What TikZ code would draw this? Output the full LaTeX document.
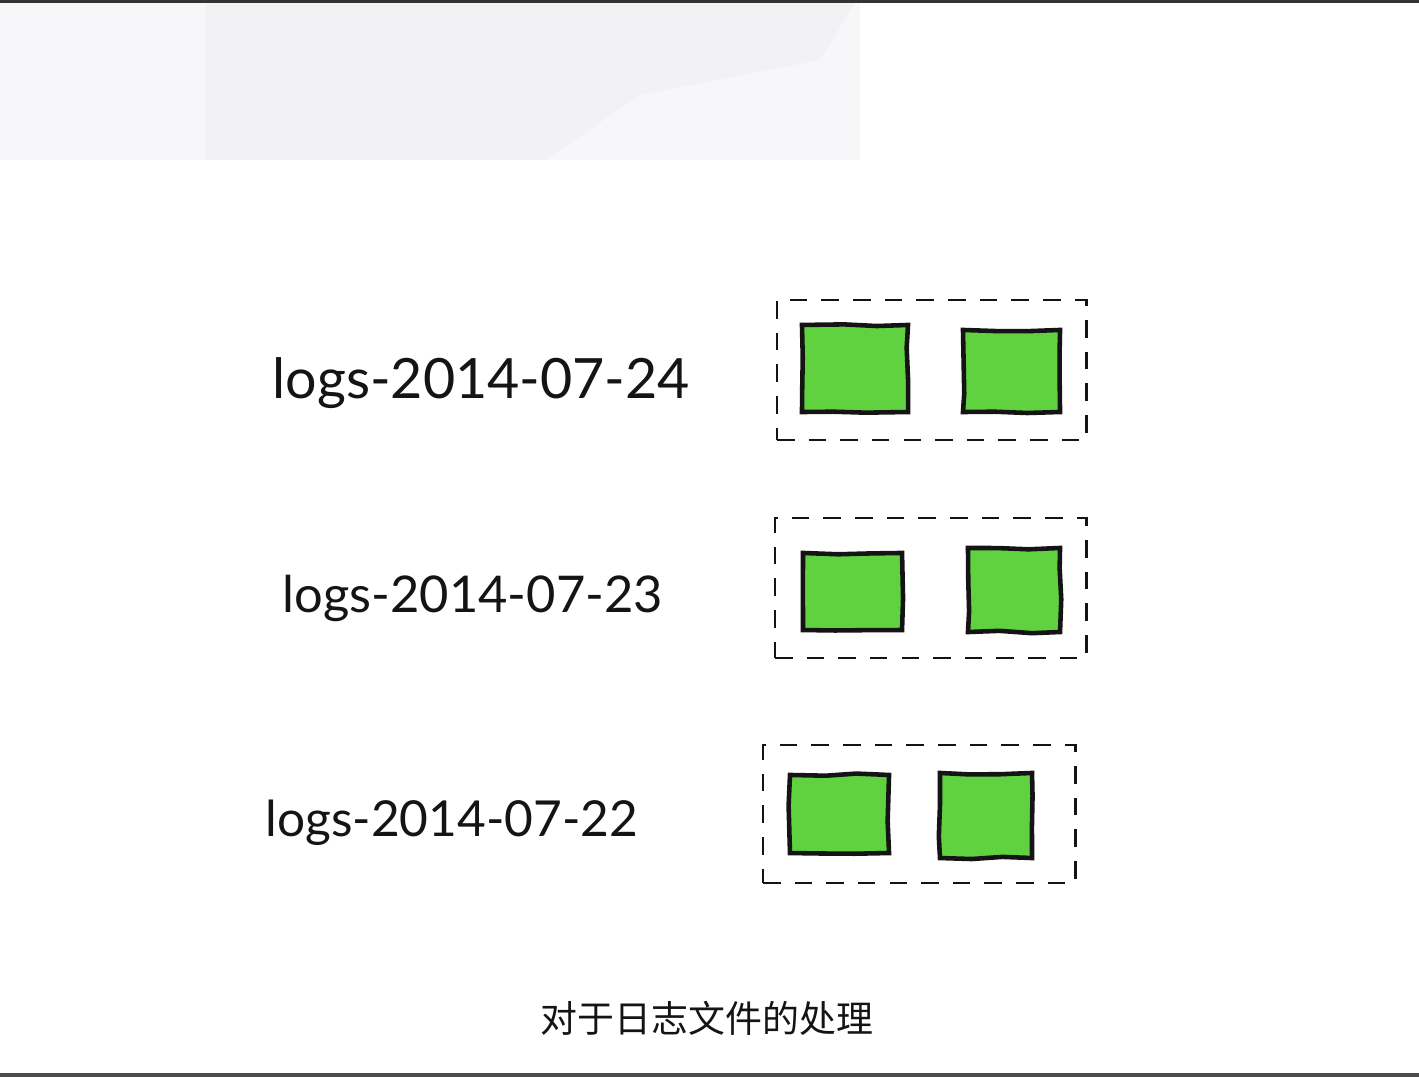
\documentclass[tikz,border=0pt]{standalone}
\usepackage{fontspec}
\setmainfont{Lato}
\newfontfamily\cjk{Noto Sans CJK SC}
\usetikzlibrary{decorations.pathmorphing, positioning}
\definecolor{loggreen}{RGB}{96, 210, 64}
\definecolor{inkblack}{RGB}{20, 20, 20}
\definecolor{shadegray}{RGB}{242, 242, 244}
\definecolor{shadelight}{RGB}{247, 247, 249}
\tikzset{
    logname/.style={font=\fontsize{#1}{18}\selectfont, text=inkblack, anchor=west, inner sep=0pt},
    chunk/.style={rectangle, draw=inkblack, fill=loggreen, line width=1.3pt, decorate, decoration={random steps, segment length=9pt, amplitude=0.4pt}},
    bucket/.style={rectangle, draw=inkblack, dash pattern=on 5pt off 4pt, line width=0.8pt},
    caption/.style={font=\cjk\fontsize{10.5}{12}\selectfont, text=inkblack}
}
\pgfmathsetseed{7}

\begin{document}
\begin{tikzpicture}[x=0.01cm, y=-0.01cm]
    \useasboundingbox (0,0) rectangle (1419,1077);
    \fill[white] (0,0) rectangle (1419,1077);

    % Faded video frame at the top
    \fill[shadelight] (0,3) rectangle (860,160);
    \fill[shadegray] (205,3) -- (855,3) -- (820,60) -- (640,95) -- (545,160) -- (205,160) -- cycle;
    \fill[black!80] (0,0) rectangle (1419,3);
    \fill[black!70] (0,1073) rectangle (1419,1077);

    % Index names
    \node[logname=15.8] (name24) at (272,383) {logs-2014-07-24};
    \node[logname=14.4] (name23) at (282,598) {logs-2014-07-23};
    \node[logname=14.1] (name22) at (265,823) {logs-2014-07-22};

    % Indices (dashed) with their shards
    \node[bucket, minimum width=3.09cm, minimum height=1.40cm] (idx24) at (931.5,370) {};
    \node[chunk, minimum width=1.06cm, minimum height=0.87cm] (s24a) at (855,368.5) {};
    \node[chunk, minimum width=0.97cm, minimum height=0.82cm] (s24b) at (1011.5,371) {};

    \node[bucket, minimum width=3.11cm, minimum height=1.40cm] (idx23) at (930.5,588) {};
    \node[chunk, minimum width=0.99cm, minimum height=0.77cm] (s23a) at (852.5,591.5) {};
    \node[chunk, minimum width=0.92cm, minimum height=0.84cm] (s23b) at (1014,590) {};

    \node[bucket, minimum width=3.12cm, minimum height=1.38cm] (idx22) at (919,814) {};
    \node[chunk, minimum width=0.99cm, minimum height=0.78cm] (s22a) at (839.5,814) {};
    \node[chunk, minimum width=0.92cm, minimum height=0.85cm] (s22b) at (986,815.5) {};

    % Subtitle
    \node[caption] (subtitle) at (707,1018) {对于日志文件的处理};

\end{tikzpicture}
\end{document}
